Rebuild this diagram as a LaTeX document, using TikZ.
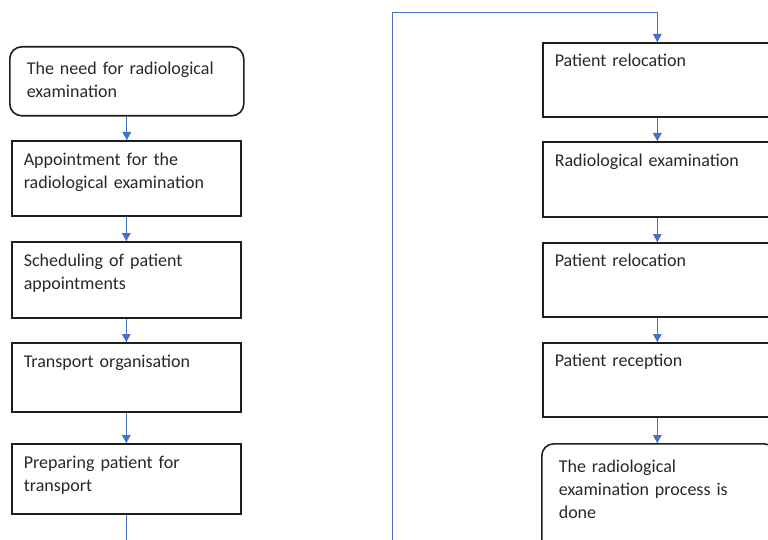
\documentclass[tikz,border=0pt]{standalone}
\usepackage{fontspec}
\setmainfont{Carlito}
\definecolor{flowblue}{RGB}{68,114,196}
\definecolor{boxline}{RGB}{30,30,30}
\definecolor{txtgray}{RGB}{40,40,40}

\begin{document}
\begin{tikzpicture}[x=1pt, y=1pt, font=\fontsize{18pt}{22.6pt}\selectfont]
\tikzstyle{stepbox}=[draw=boxline, line width=1.6pt, anchor=north west, inner xsep=12pt, inner ysep=0pt, text width=205pt, align=left, text height=25pt, text depth=50pt, text=txtgray]
\tikzstyle{endbox}=[stepbox, rounded corners=12pt, inner xsep=17pt, text width=200pt]
\tikzstyle{flow}=[draw=flowblue, line width=1pt]
\useasboundingbox (0,0) rectangle (768,-540);
\clip (0,0) rectangle (768,-540);
% left column
\node [endbox, text height=28pt, text depth=41pt] (need) at (9,-46) {The need for radiological\\examination};
\node [stepbox] (appt) at (11,-140) {Appointment for the\\radiological examination};
\node [stepbox, text depth=51pt] (sched) at (11,-241) {Scheduling of patient\\appointments};
\node [stepbox, text depth=44pt] (transp) at (11,-342) {Transport organisation};
\node [stepbox, text depth=45pt] (prep) at (11,-443) {Preparing patient for\\transport};
% right column
\node [stepbox, text height=24pt] (reloc) at (542,-42) {Patient relocation};
\node [stepbox] (exam) at (542,-141) {Radiological examination};
\node [stepbox, text height=24pt] (back) at (542,-242) {Patient relocation};
\node [stepbox, text height=24pt] (recep) at (542,-342) {Patient reception};
\node [endbox, text height=29pt, text depth=100pt] (done) at (541,-443) {The radiological\\examination process is\\done};
% connectors
\draw [flow] (need.south) -- (need.south |- appt.north);
\fill [flowblue] (need.south |- appt.north) -- ++(-4.5,8) -- ++(9,0) -- cycle;
\draw [flow] (appt.south) -- (sched.north);
\fill [flowblue] (sched.north) -- ++(-4.5,8) -- ++(9,0) -- cycle;
\draw [flow] (sched.south) -- (transp.north);
\fill [flowblue] (transp.north) -- ++(-4.5,8) -- ++(9,0) -- cycle;
\draw [flow] (transp.south) -- (prep.north);
\fill [flowblue] (prep.north) -- ++(-4.5,8) -- ++(9,0) -- cycle;
\coordinate (under) at (392,-560);
\coordinate (over) at (392,-13);
\draw [flow] (prep.south) |- (under) -- (over) -| (reloc.north);
\fill [flowblue] (reloc.north) -- ++(-4.5,8) -- ++(9,0) -- cycle;
\draw [flow] (reloc.south) -- (exam.north);
\fill [flowblue] (exam.north) -- ++(-4.5,8) -- ++(9,0) -- cycle;
\draw [flow] (exam.south) -- (back.north);
\fill [flowblue] (back.north) -- ++(-4.5,8) -- ++(9,0) -- cycle;
\draw [flow] (back.south) -- (recep.north);
\fill [flowblue] (recep.north) -- ++(-4.5,8) -- ++(9,0) -- cycle;
\draw [flow] (recep.south) -- (recep.south |- done.north);
\fill [flowblue] (recep.south |- done.north) -- ++(-4.5,8) -- ++(9,0) -- cycle;
\end{tikzpicture}
\end{document}
